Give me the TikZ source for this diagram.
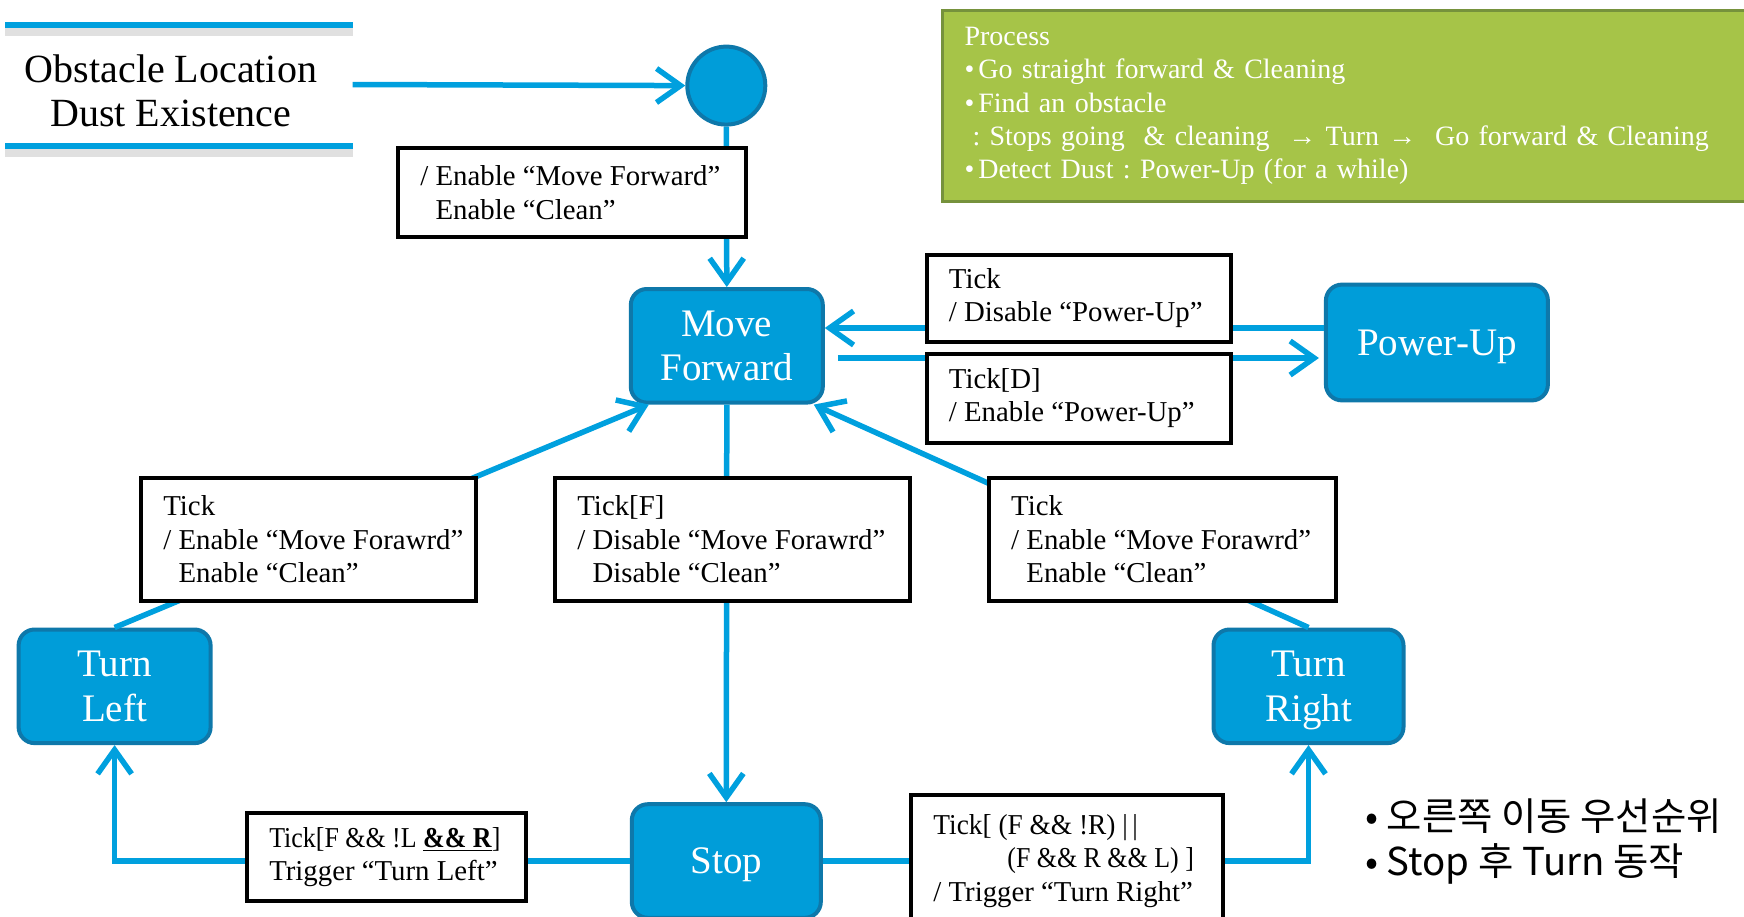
\documentclass[tikz,border=0pt]{standalone}
\usepackage{fontspec}
\setmainfont{Liberation Serif}
\newfontfamily\krfont{Noto Sans CJK KR}
\usetikzlibrary{arrows.meta}
\definecolor{connblue}{RGB}{0,160,222}
\definecolor{nodefill}{RGB}{0,157,217}
\definecolor{nodeborder}{RGB}{14,120,170}
\definecolor{procfill}{RGB}{166,196,72}
\definecolor{procborder}{RGB}{118,146,60}
\frenchspacing
\begin{document}
\begin{tikzpicture}[x=0.5pt,y=-0.5pt,
  state/.style={draw=nodeborder, line width=2pt, fill=nodefill, rounded corners=8pt,
    text=white, font=\fontsize{19.5}{22.2}\selectfont, align=center,
    minimum width=96pt, minimum height=56.8pt, inner sep=0pt},
  lblbox/.style={draw=black, line width=2pt, fill=white, anchor=north west,
    outer sep=0pt, inner sep=0pt},
  lbltext/.style={anchor=west, align=left, inner sep=0pt, xshift=11pt,
    font=\fontsize{14.4}{16.7}\selectfont},
  conn/.style={draw=connblue, line width=2.75pt, -{Straight Barb[length=12pt,width=17pt]}},
  rule/.style={draw=connblue, line width=3pt},
  ruleshade/.style={draw=black, opacity=0.12, line width=4pt}]
\useasboundingbox (0,0) rectangle (1744,916);

% input block
\coordinate (ruleTL) at (5,24.5);
\coordinate (ruleTR) at (352.6,24.5);
\coordinate (ruleBL) at (5,145.7);
\coordinate (ruleBR) at (352.6,145.7);
\draw[ruleshade] ([yshift=-3.5pt]ruleTL) -- ([yshift=-3.5pt]ruleTR);
\draw[ruleshade] ([yshift=-3.5pt]ruleBL) -- ([yshift=-3.5pt]ruleBR);
\draw[rule] (ruleTL) -- (ruleTR);
\draw[rule] (ruleBL) -- (ruleBR);
\node[font=\fontsize{20}{22.2}\selectfont, align=center] (inputs) at (171,91)
  {Obstacle Location\\Dust Existence};
\coordinate (inEnd) at (352.6,84.5);

% states
\node[circle, draw=nodeborder, line width=2pt, fill=nodefill, minimum size=39pt, inner sep=0pt]
  (init) at (726.3,85.6) {};
\node[state] (MF) at (726.8,345.8) {Move\\Forward};
\node[state, minimum width=111pt, minimum height=57.9pt, text depth=0pt] (PU) at (1436.9,342.5) {Power-Up};
\node[state] (TL) at (114.6,686.3) {Turn\\Left};
\node[state, minimum width=95pt, text depth=0pt] (TR) at (1308.5,686.3) {Turn\\Right};
\node[state, minimum width=94.5pt, text depth=0pt] (ST) at (726.3,861) {Stop};

% helper rows for the two Power-Up transitions
\coordinate (rowA) at (0,328);
\coordinate (rowB) at (0,358);

% transitions
\draw[conn] (inEnd) -- (init.west);
\draw[conn] (init.south) -- (MF.north);
\draw[conn] (PU.west |- rowA) -- (MF.east |- rowA);
\draw[conn, shorten <=6.5pt, shorten >=2.5pt] (MF.east |- rowB) -- (PU.west |- rowB);
\draw[conn] (MF.south) -- (ST.north);
\draw[conn] (TL.north) -- ([xshift=10pt]MF.south west);
\draw[conn] (TR.north) -- ([xshift=-5.5pt]MF.south east);
\draw[conn] (ST.west) -| (TL.south);
\draw[conn] (ST.east) -| (TR.south);

% transition labels: frame first, then its text
\node[lblbox, minimum width=174pt, minimum height=44.5pt] (l1) at (398,148) {};
\node[lbltext] (t1) at (l1.west) {/ Enable “Move Forward”\\\phantom{/ }Enable “Clean”};
\node[lblbox, minimum width=152pt, minimum height=43.4pt] (l2) at (926.5,254.7) {};
\node[lbltext] (t2) at (l2.west) {Tick\\/ Disable “Power-Up”};
\node[lblbox, minimum width=152pt, minimum height=44.5pt] (l3) at (926.5,353.7) {};
\node[lbltext] (t3) at (l3.west) {Tick[D]\\/ Enable “Power-Up”};
\node[lblbox, minimum width=167.5pt, minimum height=61.3pt] (l4) at (141,478) {};
\node[lbltext] (t4) at (l4.west) {Tick\\/ Enable “Move Forawrd”\\\phantom{/ }Enable “Clean”};
\node[lblbox, minimum width=177.4pt, minimum height=61.3pt] (l5) at (555,478) {};
\node[lbltext] (t5) at (l5.west) {Tick[F]\\/ Disable “Move Forawrd”\\\phantom{/ }Disable “Clean”};
\node[lblbox, minimum width=173.5pt, minimum height=61.3pt] (l6) at (988.8,478) {};
\node[lbltext] (t6) at (l6.west) {Tick\\/ Enable “Move Forawrd”\\\phantom{/ }Enable “Clean”};
\node[lblbox, minimum width=139.5pt, minimum height=44pt] (l7) at (246.9,813) {};
\node[lbltext] (t7) at (l7.west)
  {\scalebox{0.9}[1]{Tick[F \&\& !L \underline{\textbf{\&\& R}}]}\\Trigger “Turn Left”};
\node[lblbox, minimum width=156.2pt, minimum height=62.5pt] (l8) at (911,795) {};
\node[lbltext, yshift=-1.7pt] (t8) at (l8.west)
  {\scalebox{0.95}[1]{Tick[ (F \&\& !R) |\,|}\\
   \hspace*{37pt}\scalebox{0.9}[1]{(F \&\& R \&\& L) ]}\\/ Trigger “Turn Right”};

% process note
\node[draw=procborder, line width=1.5pt, fill=procfill, anchor=north west,
  minimum width=409.5pt, minimum height=95.5pt, text width=387.5pt, inner xsep=11pt,
  align=left, text=white, font=\fontsize{14}{16.7}\selectfont] (proc) at (941,9)
  {Process\\
   •\hspace{2pt}Go straight forward \& Cleaning\\
   •\hspace{2pt}Find an obstacle\\
   \hspace*{4pt}: Stops going \ \& cleaning \ → Turn → \ Go forward \& Cleaning\\
   •\hspace{2pt}Detect Dust : Power-Up (for a while)};

% remarks
\node[anchor=west, align=left, font=\krfont\fontsize{19.2}{22.5}\selectfont] (remarks) at (1358,842)
  {• 오른쪽 이동 우선순위\\• Stop 후 Turn 동작};
\end{tikzpicture}
\end{document}
